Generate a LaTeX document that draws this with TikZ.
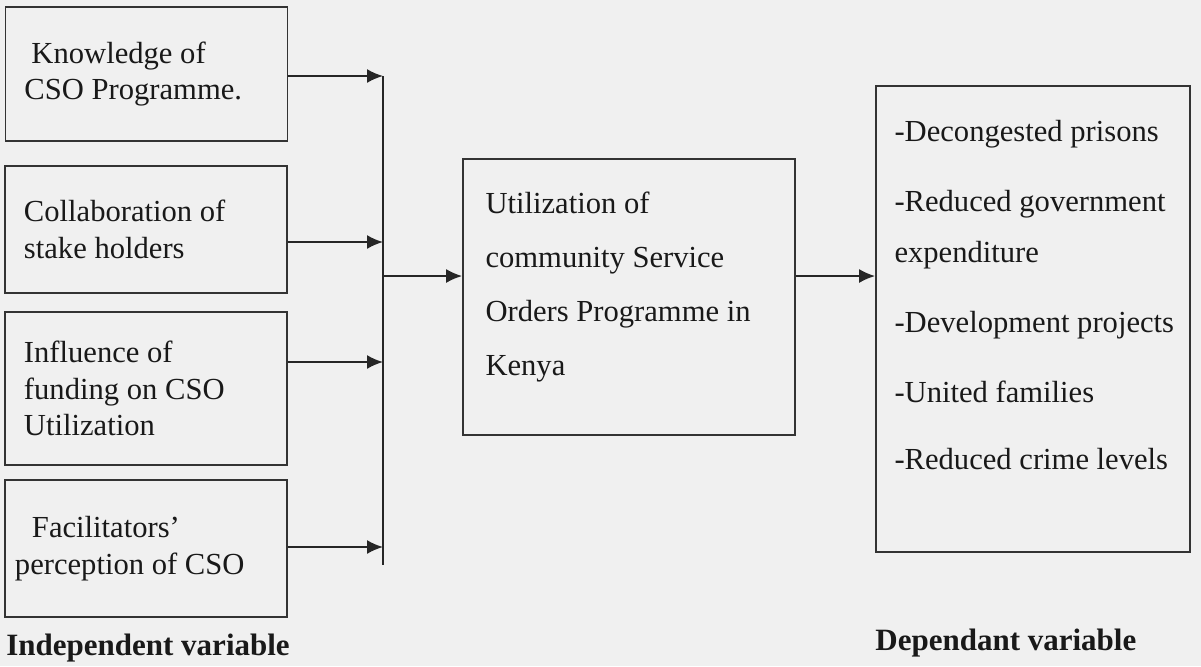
\documentclass[tikz,border=0pt]{standalone}
\usepackage{fontspec}
\setmainfont{Liberation Serif}
\usetikzlibrary{arrows.meta}

\begin{document}
\begin{tikzpicture}[x=0.5pt, y=-0.5pt,
	every node/.style={font=\fontsize{15.3}{18.3}\selectfont, text=black!90},
	ivbox/.style={draw=black!80, line width=0.9pt, minimum width=141pt, text width=122pt, align=flush left, inner xsep=9pt},
	bigbox/.style={draw=black!80, line width=0.9pt},
	boxtext/.style={anchor=north west, inner sep=0pt, align=flush left},
	link/.style={draw=black!85, line width=0.9pt, -{Latex[length=8pt,width=7pt]}},
	varlabel/.style={anchor=base west, inner sep=0pt, font=\fontsize{15.5}{18}\selectfont\bfseries}]
	\fill[black!6] (0,0) rectangle (1201,666);
	\useasboundingbox (0,0) rectangle (1201,666);

	% independent variables
	\node[ivbox, minimum height=67pt] (know) at (146.5,74) {\hspace*{3.5pt}Knowledge of\\CSO Programme.};
	\node[ivbox, minimum height=63.5pt] (collab) at (146,229.5) {Collaboration of\\stake holders};
	\node[ivbox, minimum height=76.5pt] (fund) at (146,388.5) {Influence of\\funding on CSO\\Utilization};
	\node[ivbox, minimum height=68.5pt, text width=131pt, inner xsep=5pt] (percep) at (146,548.5) {\hspace*{8.5pt}Facilitators'\\perception of CSO};

	% bus
	\coordinate (b1) at (383,76);
	\coordinate (b2) at (383,242);
	\coordinate (b3) at (383,362);
	\coordinate (b4) at (383,547);
	\coordinate (bmid) at (383,276);
	\coordinate (bend) at (383,565);
	\draw[link] (know.east |- b1) -- (b1);
	\draw[link] (collab.east |- b2) -- (b2);
	\draw[link] (fund.east |- b3) -- (b3);
	\draw[link] (percep.east |- b4) -- (b4);
	\draw[draw=black!85, line width=0.9pt] (b1) -- (bend);

	% utilization
	\node[bigbox, minimum width=166pt, minimum height=138pt] (util) at (629,297) {};
	\node[boxtext, font=\fontsize{15.3}{27}\selectfont] (utiltext) at ([xshift=11.5pt,yshift=-16.5pt]util.north west) {Utilization of\\community Service\\Orders Programme in\\Kenya};

	% dependent variable
	\node[bigbox, minimum width=157pt, minimum height=233pt] (dep) at (1033,319) {};
	\node[boxtext, font=\fontsize{15.3}{25.5}\selectfont] (deptext) at ([xshift=9.5pt,yshift=-17.5pt]dep.north west) {-Decongested prisons\\[9.5pt]-Reduced government\\expenditure\\[9.5pt]-Development projects\\[9.5pt]-United families\\[8pt]-Reduced crime levels};

	\draw[link] (bmid) -- (util.west |- bmid);
	\draw[link] (util.east |- bmid) -- (dep.west |- bmid);

	\node[varlabel] (indep) at (6,655) {Independent variable};
	\node[varlabel] (depend) at (875,650) {Dependant variable};
\end{tikzpicture}
\end{document}
